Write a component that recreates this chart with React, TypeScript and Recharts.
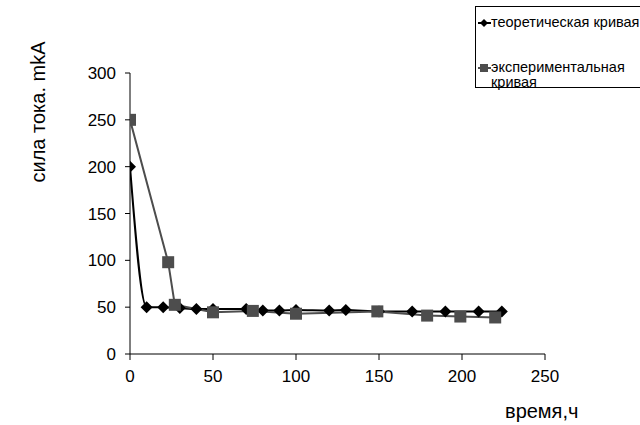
import React from 'react';
import { LineChart, Line, XAxis, YAxis } from 'recharts';

// теоретическая кривая
const theoryHours = [0, 10, 20, 30, 40, 50, 70, 80, 90, 100, 120, 130, 150, 170, 190, 210, 224];
const theoryCurrent = [200, 50, 50, 49, 48, 48, 48, 46.5, 46.5, 47, 46.5, 47, 45.5, 45.5, 45.5, 45.5, 45.5];

// экспериментальная кривая
const expHours = [0, 23, 27, 50, 74, 100, 149, 179, 199, 220];
const expCurrent = [250, 98, 52.5, 44.5, 46, 43, 45.5, 41, 40, 39];

const xTicks = [0, 50, 100, 150, 200, 250];
const yTicks = [0, 50, 100, 150, 200, 250, 300];

const theoryData = theoryHours.map((t, i) => ({ t, v: theoryCurrent[i] }));
const expData = expHours.map((t, i) => ({ t, v: expCurrent[i] }));

const FONT = '"Liberation Sans", Arial, sans-serif';
const BLACK = '#000000';
const GRAY = '#4d4d4d';

const Diamond = (props: any) => {
	const { cx, cy } = props;
	if (cx == null || cy == null) return null;
	const r = 6;
	return <path d={`M${cx},${cy - r}L${cx + r},${cy}L${cx},${cy + r}L${cx - r},${cy}Z`} fill={BLACK} />;
};

const Square = (props: any) => {
	const { cx, cy } = props;
	if (cx == null || cy == null) return null;
	return <rect x={cx - 6} y={cy - 6} width={12} height={12} fill={GRAY} />;
};

const LegendBox = () => (
	<div
		style={{
			position: 'absolute',
			left: 475,
			top: 6,
			width: 175,
			height: 82,
			border: '1px solid #000',
			boxSizing: 'border-box',
			fontFamily: FONT,
			fontSize: 14.5,
			color: '#000',
		}}
	>
		<svg width={16} height={82} style={{ position: 'absolute', left: 0, top: 0 }}>
			<line x1={2} y1={16} x2={15} y2={16} stroke={BLACK} strokeWidth={2} />
			<path d='M8,12L12,16L8,20L4,16Z' fill={BLACK} />
			<line x1={2} y1={61} x2={15} y2={61} stroke={GRAY} strokeWidth={2} />
			<rect x={4} y={57} width={8} height={8} fill={GRAY} />
		</svg>
		<div style={{ position: 'absolute', left: 15, top: 8, lineHeight: '15px', whiteSpace: 'nowrap' }}>
			теоретическая кривая
		</div>
		<div style={{ position: 'absolute', left: 15, top: 53, lineHeight: '15px', whiteSpace: 'nowrap' }}>
			экспериментальная
			<br />
			кривая
		</div>
	</div>
);

export default function App() {
	return (
		<div style={{ position: 'absolute', left: 0, top: 0, width: 640, height: 425, background: '#fff', overflow: 'hidden' }}>
			<LineChart
				width={640}
				height={425}
				margin={{ top: 73, right: 95, bottom: 41, left: 90 }}
			>
				<XAxis
					type='number'
					dataKey='t'
					domain={[0, 250]}
					ticks={xTicks}
					allowDataOverflow
					stroke={BLACK}
					tickSize={6}
					tickMargin={10}
					tick={{ fill: BLACK, fontSize: 17, fontFamily: FONT }}
					height={30}
				/>
				<YAxis
					type='number'
					dataKey='v'
					domain={[0, 300]}
					ticks={yTicks}
					stroke={BLACK}
					tickSize={5}
					tickMargin={9}
					tick={{ fill: BLACK, fontSize: 17, fontFamily: FONT }}
					width={40}
				/>
				<Line
					data={theoryData}
					dataKey='v'
					name='теоретическая кривая'
					type='monotone'
					stroke={BLACK}
					strokeWidth={2}
					dot={<Diamond />}
					activeDot={false}
					isAnimationActive={false}
				/>
				<Line
					data={expData}
					dataKey='v'
					name='экспериментальная кривая'
					type='linear'
					stroke={GRAY}
					strokeWidth={2}
					dot={<Square />}
					activeDot={false}
					isAnimationActive={false}
				/>
			</LineChart>
			<LegendBox />
			<div
				style={{
					position: 'absolute',
					left: 38,
					top: 112,
					transform: 'translate(-50%, -50%) rotate(-90deg)',
					whiteSpace: 'nowrap',
					fontFamily: FONT,
					fontSize: 20,
					color: '#000',
				}}
			>
				сила тока. mkA
			</div>
			<div
				style={{
					position: 'absolute',
					left: 505,
					top: 400,
					whiteSpace: 'nowrap',
					fontFamily: FONT,
					fontSize: 20,
					color: '#000',
				}}
			>
				время,ч
			</div>
		</div>
	);
}
